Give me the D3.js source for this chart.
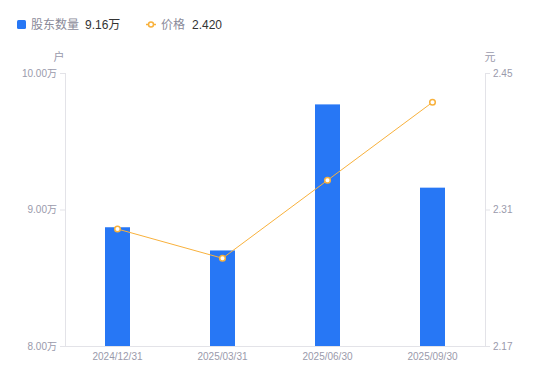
<!DOCTYPE html>
<html>
<head>
<meta charset="utf-8">
<script src="https://cdn.jsdelivr.net/npm/d3@7"></script>
<style>
  body { margin: 0; background: #fff; }
  text { font-family: "Liberation Sans", "Noto Sans CJK SC", sans-serif; }
</style>
</head>
<body>
<div id="chart"></div>
<script>
// data
let dates = ['2024/12/31', '2025/03/31', '2025/06/30', '2025/09/30'];
let holders = [8.87, 8.70, 9.77, 9.16];   // 万户
let prices = [2.29, 2.26, 2.34, 2.42];    // 元
let leftTicks = [8, 9, 10];
let rightTicks = [2.17, 2.31, 2.45];

let width = 550, height = 381;
let margin = {left: 65, right: 65, top: 73, bottom: 35};
let barColor = '#2777f5';
let lineColor = '#f8b13c';
let axisColor = '#e3e3e8';
let labelColor = '#9a9aab';
let font = '"Liberation Sans", "Noto Sans CJK SC", sans-serif';

let svg = d3.select('#chart').append('svg')
    .attr('width', width).attr('height', height);

let x = d3.scaleBand()
    .domain(dates)
    .range([margin.left, width - margin.right]);

let yL = d3.scaleLinear().domain([8, 10]).range([height - margin.bottom, margin.top]);
let yR = d3.scaleLinear().domain([2.17, 2.45]).range([height - margin.bottom, margin.top]);

// left axis
let gL = svg.append('g')
    .attr('transform', 'translate(' + margin.left + ',0)')
    .call(d3.axisLeft(yL).tickValues(leftTicks).tickSize(5).tickPadding(3)
        .tickFormat(d => d3.format('.2f')(d) + '万'));
// right axis
let gR = svg.append('g')
    .attr('transform', 'translate(' + (width - margin.right) + ',0)')
    .call(d3.axisRight(yR).tickValues(rightTicks).tickSize(5).tickPadding(3)
        .tickFormat(d3.format('.2f')));
// bottom axis
let gB = svg.append('g')
    .attr('transform', 'translate(0,' + (height - margin.bottom) + ')')
    .call(d3.axisBottom(x).tickSize(0).tickPadding(7));

[gL, gR, gB].forEach(g => {
    g.select('.domain').attr('stroke', axisColor);
    g.selectAll('.tick line').attr('stroke', axisColor);
    g.selectAll('.tick text')
        .attr('fill', labelColor)
        .style('font-size', '10px')
        .style('font-family', font);
});
gL.select('.domain').attr('d', 'M0.5,' + yL(10) + 'V' + (yL(8) + 0.5));
gR.select('.domain').attr('d', 'M0.5,' + yR(2.45) + 'V' + (yR(2.17) + 0.5));
gB.select('.domain').attr('d', 'M' + margin.left + ',0.5H' + (width - margin.right));

// unit labels
svg.append('text').attr('x', 59).attr('y', 61).attr('text-anchor', 'middle')
    .attr('fill', labelColor).style('font-size', '11px').text('户');
svg.append('text').attr('x', 490).attr('y', 61).attr('text-anchor', 'middle')
    .attr('fill', labelColor).style('font-size', '11px').text('元');

// bars
let barW = 25;
svg.append('g').selectAll('rect')
    .data(holders)
    .enter()
    .append('rect')
    .attr('x', (d, i) => x(dates[i]) + x.bandwidth() / 2 - barW / 2)
    .attr('y', d => yL(d))
    .attr('width', barW)
    .attr('height', d => yL(8) - yL(d))
    .attr('fill', barColor);

// price line
let line = d3.line()
    .x((d, i) => x(dates[i]) + x.bandwidth() / 2)
    .y(d => yR(d));
svg.append('path')
    .datum(prices)
    .attr('d', line)
    .attr('fill', 'none')
    .attr('stroke', lineColor)
    .attr('stroke-width', 1);
svg.append('g').selectAll('circle')
    .data(prices)
    .enter()
    .append('circle')
    .attr('cx', (d, i) => x(dates[i]) + x.bandwidth() / 2)
    .attr('cy', d => yR(d))
    .attr('r', 2.8)
    .attr('fill', '#fff')
    .attr('stroke', lineColor)
    .attr('stroke-width', 1.5);

// legend
let legend = svg.append('g').style('font-size', '12px');
legend.append('rect').attr('x', 17).attr('y', 20).attr('width', 9).attr('height', 9)
    .attr('rx', 1.5).attr('fill', barColor);
legend.append('text').attr('x', 31).attr('y', 29).attr('fill', '#8a8a99').text('股东数量');
legend.append('text').attr('x', 85).attr('y', 29).attr('fill', '#333').text('9.16万');
legend.append('line').attr('x1', 146).attr('x2', 156).attr('y1', 24.5).attr('y2', 24.5)
    .attr('stroke', lineColor).attr('stroke-width', 1.5);
legend.append('circle').attr('cx', 151).attr('cy', 24.5).attr('r', 2.5)
    .attr('fill', '#fff').attr('stroke', lineColor).attr('stroke-width', 1.5);
legend.append('text').attr('x', 161).attr('y', 29).attr('fill', '#8a8a99').text('价格');
legend.append('text').attr('x', 192).attr('y', 29).attr('fill', '#333')
    .text(d3.format('.3f')(prices[prices.length - 1]));
</script>
</body>
</html>
